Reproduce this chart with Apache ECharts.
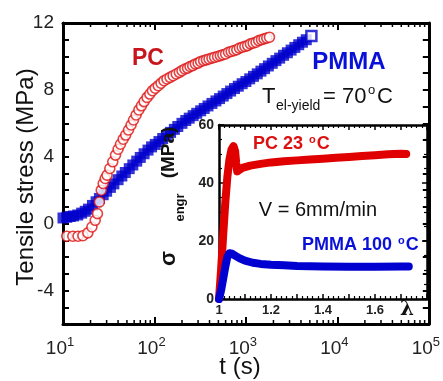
<!DOCTYPE html>
<html>
<head>
<meta charset="utf-8">
<title>Tensile stress vs time</title>
<script src="https://cdn.jsdelivr.net/npm/echarts@6/dist/echarts.min.js"></script>
<style>html,body{margin:0;padding:0;background:#fff;}</style>
</head>
<body>
<div id="main" style="width:443px;height:381px;"></div>
<script>
// main plot: PC (red circles), time in s and stress in MPa
var pcTime = [11.0, 12.8, 14.6, 16.5, 18.7, 20.7, 22.5, 23.8, 25.0, 26.2, 27.5, 28.9, 30.3, 32.5, 35.0,
  37.5, 40.0, 42.5, 45.5, 48.5, 52, 55.5, 59, 63, 67.5, 72, 77, 83, 89, 95, 102, 110, 118, 127, 137,
  148, 160, 173, 187, 200, 215, 230, 245, 262, 280, 300, 320, 345, 370, 395, 425, 455, 490, 525, 560,
  600, 645, 690, 740, 795, 850, 910, 975, 1045, 1120, 1200, 1290, 1380, 1480, 1580, 1690, 1810];
var pcStress = [-0.75, -0.75, -0.75, -0.72, -0.55, -0.2, 0.2, 0.6, 1.3, 2.0, 2.4, 2.7, 2.9, 3.3, 3.7,
  4.1, 4.45, 4.75, 5.05, 5.3, 5.6, 5.9, 6.2, 6.5, 6.8, 7.05, 7.3, 7.55, 7.75, 7.95, 8.1, 8.25, 8.4, 8.55, 8.65,
  8.75, 8.85, 8.95, 9.05, 9.15, 9.25, 9.3, 9.4, 9.45, 9.55, 9.6, 9.7, 9.75, 9.8, 9.85, 9.9, 9.95, 10.0, 10.05, 10.1,
  10.15, 10.25, 10.3, 10.35, 10.4, 10.5, 10.55, 10.6, 10.65, 10.75, 10.8, 10.85, 10.95, 11.0, 11.05, 11.1, 11.15];

// main plot: PMMA (blue squares)
var pmmaTime = [10, 11, 12, 13, 14.5, 16, 17.5, 19, 21, 23, 25, 27.5, 30, 33, 36, 40, 44, 48, 53, 58, 64,
  70, 77, 85, 93, 102, 112, 123, 135, 150, 165, 180, 200, 220, 240, 265, 290, 320, 350, 385, 425, 470,
  515, 565, 620, 680, 750, 825, 910, 1000, 1100, 1210, 1330, 1460, 1600, 1760, 1940, 2130, 2340, 2580,
  2840, 3120, 3430, 3780, 4150, 4570, 5200];
var pmmaStress = [0.34, 0.38, 0.43, 0.46, 0.52, 0.63, 0.74, 0.87, 1.09, 1.31, 1.51, 1.73, 1.94, 2.17, 2.38,
  2.63, 2.85, 3.06, 3.29, 3.51, 3.74, 3.96, 4.18, 4.40, 4.59, 4.74, 4.91, 5.09, 5.26, 5.46, 5.64, 5.81,
  6.0, 6.17, 6.31, 6.46, 6.6, 6.75, 6.89, 7.04, 7.19, 7.34, 7.48, 7.63, 7.78, 7.93, 8.08, 8.22, 8.37, 8.5,
  8.66, 8.81, 8.96, 9.12, 9.27, 9.43, 9.59, 9.75, 9.9, 10.07, 10.22, 10.38, 10.54, 10.7, 10.85, 11.0, 11.23];

// inset: engineering stress vs stretch ratio
var pcLambda = [1.000, 1.008, 1.016, 1.024, 1.032, 1.040, 1.048, 1.056, 1.062, 1.066, 1.070, 1.078, 1.090,
  1.12, 1.16, 1.20, 1.25, 1.30, 1.35, 1.40, 1.45, 1.50, 1.55, 1.60, 1.65, 1.70, 1.72];
var pcSigma = [0, 10, 22, 33, 42, 48, 51.5, 52.7, 51, 47, 44, 44.5, 45.2,
  46.0, 46.6, 47.1, 47.5, 47.8, 48.1, 48.4, 48.7, 49.0, 49.3, 49.6, 49.9, 50.1, 50.0];
var pmmaLambda = [1.000, 1.008, 1.016, 1.024, 1.032, 1.040, 1.050, 1.065, 1.08, 1.10, 1.13, 1.16, 1.20,
  1.25, 1.30, 1.40, 1.50, 1.60, 1.70, 1.73];
var pmmaSigma = [0, 3, 7, 11, 14.5, 15.8, 15.6, 14.8, 14.0, 13.2, 12.5, 12.1, 11.8,
  11.6, 11.4, 11.2, 11.1, 11.1, 11.2, 11.2];

// minor ticks of the log time axis (2..9 in each decade)
var logMinorTicks = [];
[10, 100, 1000, 10000].forEach(function (d) {
  for (var k = 2; k <= 9; k++) logMinorTicks.push([d * k]);
});

var FONT = 'Liberation Sans';
var RED = '#dd1111', BLUE = '#0000cc';

function pairs(xs, ys) {
  return xs.map(function (x, i) { return [x, ys[i]]; });
}

var pmmaData = pairs(pmmaTime, pmmaStress);
var last = pmmaData.length - 1;
pmmaData[last] = { value: pmmaData[last], symbolSize: 10, itemStyle: { color: '#fff', borderColor: BLUE, borderWidth: 2.5 } };

function mainX(pos, labels) {
  return {
    type: 'log', gridIndex: 0, position: pos, min: 10, max: 100000, logBase: 10,
    axisLine: { show: true, onZero: false, lineStyle: { color: '#000', width: 3 } },
    axisTick: { show: true, inside: true, length: 7, lineStyle: { color: '#000', width: 2 } },
    splitLine: { show: false },
    axisLabel: labels ? {
      margin: 12, color: '#222', padding: [0, 6, 0, 0],
      formatter: function (v) { return '{b|10}{s|' + Math.round(Math.log10(v)) + '}'; },
      rich: {
        b: { fontSize: 19, fontFamily: FONT, color: '#222', verticalAlign: 'bottom' },
        s: { fontSize: 13, fontFamily: FONT, color: '#222', verticalAlign: 'bottom', padding: [0, 0, 9, 0] }
      }
    } : { show: false }
  };
}

function mainY(pos, labels) {
  return {
    type: 'value', gridIndex: 0, position: pos, min: -6, max: 12, interval: 1,
    axisLine: { show: true, onZero: false, lineStyle: { color: '#000', width: 3 } },
    axisTick: { show: true, inside: true, length: 6, lineStyle: { color: '#000', width: 2 } },
    splitLine: { show: false },
    axisLabel: labels ? {
      margin: 9, fontSize: 19, fontFamily: FONT, color: '#222',
      formatter: function (v) { return v % 4 === 0 ? String(v) : ''; }
    } : { show: false }
  };
}

function insetX(pos, labels) {
  return {
    type: 'value', gridIndex: 1, position: pos, min: 1, max: 1.8, interval: 0.1,
    axisLine: { show: true, onZero: false, lineStyle: { color: '#000', width: 2.5 } },
    axisTick: { show: true, inside: true, length: 5, lineStyle: { color: '#000', width: 1.5 } },
    minorTick: { show: true, splitNumber: 5, length: 3, lineStyle: { color: '#000', width: 1.2 } },
    splitLine: { show: false },
    axisLabel: labels ? {
      margin: 5, fontSize: 13, fontWeight: 'bold', fontFamily: FONT, color: '#222',
      formatter: function (v) {
        var r = Math.round(v * 10);
        if (r % 2 !== 0 || r === 18) return '';
        return r === 10 ? '1' : (r / 10).toFixed(1);
      }
    } : { show: false }
  };
}

function insetY(pos, labels) {
  return {
    type: 'value', gridIndex: 1, position: pos, min: 0, max: 60, interval: 20,
    axisLine: { show: true, onZero: false, lineStyle: { color: '#000', width: 2.5 } },
    axisTick: { show: true, inside: true, length: 5, lineStyle: { color: '#000', width: 1.5 } },
    minorTick: { show: true, splitNumber: 4, length: 3, lineStyle: { color: '#000', width: 1.2 } },
    splitLine: { show: false },
    axisLabel: labels ? {
      margin: 5, fontSize: 14, fontWeight: 'bold', fontFamily: FONT, color: '#222'
    } : { show: false }
  };
}

function txt(x, y, text, size, color, extra) {
  var st = { text: text, fontSize: size, fontFamily: FONT, fill: color, align: 'left', verticalAlign: 'middle' };
  for (var k in (extra || {})) st[k] = extra[k];
  return { type: 'text', x: x, y: y, style: st, z: 100 };
}

function rotTxt(x, y, text, size, extra) {
  var el = txt(x, y, text, size, '#111', extra);
  el.rotation = Math.PI / 2;
  el.style.align = 'center';
  return el;
}

var supRich = function (size, color) {
  return {
    a: { fontSize: size, fontWeight: 'bold', fontFamily: FONT, fill: color, verticalAlign: 'bottom' },
    s: { fontSize: 11, fontWeight: 'bold', fontFamily: FONT, fill: color, verticalAlign: 'bottom', padding: [0, 1, 8, 1] }
  };
};

var chart = echarts.init(document.getElementById('main'));
chart.setOption({
  animation: false,
  backgroundColor: '#fff',
  grid: [
    { left: 63, top: 23, right: 14, bottom: 57 },
    { left: 219, top: 125, right: 16, bottom: 82, show: true, backgroundColor: '#fff', borderWidth: 0 }
  ],
  xAxis: [mainX('bottom', true), mainX('top', false), insetX('bottom', true), insetX('top', false)],
  yAxis: [mainY('left', true), mainY('right', false), insetY('left', true), insetY('right', false)],
  series: [
    {
      // minor ticks for the bottom and top log axes
      type: 'custom', xAxisIndex: 0, yAxisIndex: 0, silent: true, clip: false, z: 10,
      data: logMinorTicks,
      renderItem: function (params, api) {
        var b = api.coord([api.value(0), -6]);
        var t = api.coord([api.value(0), 12]);
        var st = { stroke: '#000', lineWidth: 1.5 };
        return {
          type: 'group', children: [
            { type: 'line', shape: { x1: b[0], y1: b[1], x2: b[0], y2: b[1] - 4 }, style: st },
            { type: 'line', shape: { x1: t[0], y1: t[1], x2: t[0], y2: t[1] + 4 }, style: st }
          ]
        };
      }
    },
    {
      type: 'scatter', xAxisIndex: 0, yAxisIndex: 0, symbol: 'rect', symbolSize: 11,
      itemStyle: { color: BLUE }, data: pmmaData, z: 2
    },
    {
      type: 'scatter', xAxisIndex: 0, yAxisIndex: 0, symbol: 'circle', symbolSize: 10,
      itemStyle: { color: '#fff', borderColor: RED, borderWidth: 1.6 },
      data: pairs(pcTime, pcStress), z: 3
    },
    {
      type: 'line', xAxisIndex: 2, yAxisIndex: 2, showSymbol: false, clip: false, z: 5,
      lineStyle: { color: '#e00000', width: 8, cap: 'round', join: 'round' },
      data: pairs(pcLambda, pcSigma)
    },
    {
      type: 'line', xAxisIndex: 2, yAxisIndex: 2, showSymbol: false, clip: false, z: 6,
      lineStyle: { color: '#0000d0', width: 8, cap: 'round', join: 'round' },
      data: pairs(pmmaLambda, pmmaSigma)
    }
  ],
  graphic: [
    rotTxt(26, 177, 'Tensile stress (MPa)', 24),
    txt(240, 367, 't (s)', 24, '#111', { align: 'center' }),
    txt(148, 58.5, 'PC', 23, '#c8141c', { fontWeight: 'bold', align: 'center' }),
    txt(349, 62.5, 'PMMA', 24, '#0a10d8', { fontWeight: 'bold', align: 'center' }),
    txt(262, 97, 'T', 22, '#111'),
    txt(276, 106, 'el-yield', 14, '#111'),
    txt(323, 97, '= 70', 22, '#111'),
    txt(368, 90, 'o', 13, '#111'),
    txt(377, 97, 'C', 22, '#111'),
    {
      type: 'text', x: 253, y: 143.5, z: 100,
      style: { text: '{a|PC 23 }{s|o}{a|C}', rich: supRich(18, '#dd1010'), align: 'left', verticalAlign: 'middle' }
    },
    txt(318, 210, 'V = 6mm/min', 20, '#111', { align: 'center' }),
    {
      type: 'text', x: 302, y: 245, z: 100,
      style: { text: '{a|PMMA 100 }{s|o}{a|C}', rich: supRich(18, '#0a10d8'), align: 'left', verticalAlign: 'middle' }
    },
    txt(407, 310, '\u03bb', 20, '#111', { fontWeight: 'bold', align: 'center', fontFamily: 'DejaVu Serif' }),
    rotTxt(169, 258.5, '\u03c3', 22, { fontWeight: 'bold' }),
    rotTxt(180.5, 207.5, 'engr', 13, { fontWeight: 'bold' }),
    rotTxt(169, 152.5, '(MPa)', 19, { fontWeight: 'bold' })
  ]
});
</script>
</body>
</html>
